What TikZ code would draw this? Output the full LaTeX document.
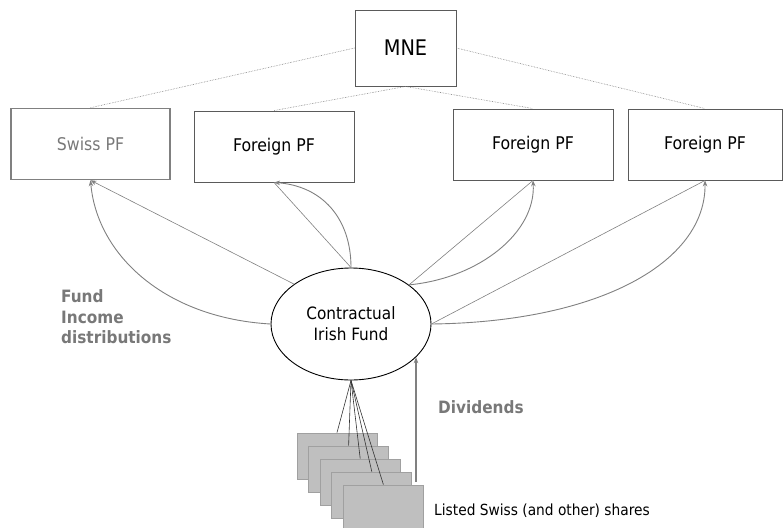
\documentclass[tikz,border=0pt]{standalone}
\usepackage{fontspec}
\setmainfont{DejaVu Sans Condensed}
\usetikzlibrary{shapes.geometric, arrows.meta, positioning, calc}
\usepackage{xcolor}
\definecolor{linegray}{RGB}{128,128,128}
\definecolor{textgray}{RGB}{120,120,120}
\definecolor{boxedge}{RGB}{90,90,90}
\definecolor{sharefill}{RGB}{191,191,191}
\definecolor{shareedge}{RGB}{160,160,160}
\tikzset{
    pfbox/.style={rectangle, draw=boxedge, line width=0.9pt, minimum width=160pt, minimum height=71pt, inner sep=0pt, font=\fontsize{17.5}{21}\selectfont},
    fundnode/.style={ellipse, draw, line width=0.9pt, fill=white, minimum width=160pt, minimum height=112pt, inner sep=0pt, align=center, font=\fontsize{17}{21}\selectfont},
    sharebox/.style={rectangle, draw=shareedge, fill=sharefill, line width=0.8pt, minimum width=80pt, minimum height=46pt, inner sep=0pt},
    owner/.style={densely dotted, linegray, line width=0.6pt},
    arrow/.style={->, >={Stealth[length=6pt,width=4.5pt]}, linegray, line width=0.9pt},
    link/.style={linegray, line width=0.6pt},
    label/.style={font=\bfseries\fontsize{17}{20.5}\selectfont, text=textgray, align=left, inner sep=0pt}
}

\begin{document}
\begin{tikzpicture}[x=1pt, y=-1pt]
    \useasboundingbox (0,0) rectangle (783,527);
    % parent and pension funds
    \node[rectangle, draw=boxedge, line width=0.9pt, minimum width=101pt, minimum height=76pt, inner sep=0pt, font=\fontsize{21.5}{25}\selectfont] (mne) at (405.5,48) {MNE};
    \node[pfbox, draw=linegray, line width=1.5pt, text=textgray, minimum width=159pt] (swiss) at (90.5,144) {Swiss PF};
    \node[pfbox] (for1) at (274,146.5) {Foreign PF};
    \node[pfbox] (for2) at (533,144.5) {Foreign PF};
    \node[pfbox, minimum width=154pt] (for3) at (705,144.5) {Foreign PF};
    \draw[owner] (mne.west) -- (swiss.north);
    \draw[owner] (mne.south) -- (for1.north);
    \draw[owner] (mne.south) -- (for2.north);
    \draw[owner] (mne.east) -- (for3.north);

    % fund and distributions
    \node[fundnode] (fund) at (351,324) {Contractual\\Irish Fund};
    \draw[link, ->, >={Stealth[length=6pt,width=4.5pt]}] (fund.145) -- (swiss.south);
    \draw[arrow] (fund.west) .. controls (165,318) and (97,255) .. (swiss.south);
    \draw[link] (fund.north) -- (for1.south);
    \draw[arrow] (fund.north) .. controls (351,218) and (322,186) .. (for1.south);
    \draw[link] (fund.34) -- (for2.south);
    \draw[arrow] (fund.34) .. controls (480,278) and (536,232) .. (for2.south);
    \draw[link] (fund.east) -- (for3.south);
    \draw[arrow] (fund.east) .. controls (600,322) and (706,262) .. (for3.south);
    \node[label, anchor=west] (income) at (61,317) {Fund\\Income\\distributions};

    % listed shares
    \foreach \i in {1,...,5}
        \node[sharebox] (share\i) at ({337+11.6*(\i-1)},{456+13*(\i-1)}) {};
    \foreach \i in {1,...,5}
        \draw[line width=0.6pt, black!80] (fund.south) -- (share\i.north);
    \coordinate (divbase) at (416,482);
    \draw[arrow, line width=1.3pt] (divbase) -- (divbase |- fund.-27);
    \node[label, anchor=west] (dividends) at (438,407) {Dividends};
    \node[anchor=west, inner sep=0pt, font=\fontsize{15.3}{18}\selectfont] (shares) at (434,511) {Listed Swiss (and other) shares};
\end{tikzpicture}
\end{document}
